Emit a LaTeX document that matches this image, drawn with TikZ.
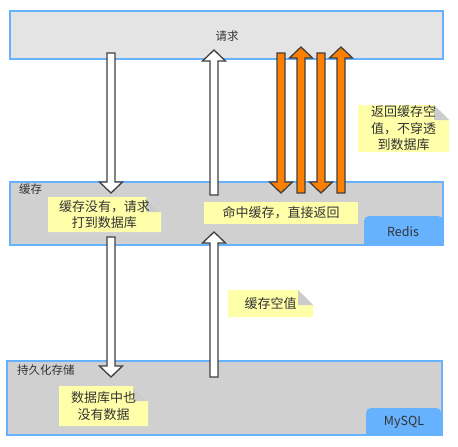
\documentclass[tikz,border=0pt]{standalone}
\usepackage{fontspec}
\setmainfont{Noto Sans CJK SC}
\definecolor{boxblue}{HTML}{66B2FF}
\definecolor{topfill}{HTML}{E4E4E4}
\definecolor{midfill}{HTML}{D0D0D0}
\definecolor{notey}{HTML}{FFFFAA}
\definecolor{foldg}{HTML}{CCCCCC}
\definecolor{edge}{HTML}{404040}
\definecolor{txt}{HTML}{333333}
\definecolor{orng}{HTML}{FF8000}
\newcommand\bdown[4]{% x, ytop, ytip, fill
  \draw[blockarrow,fill=#4] (#1-4,#2) -- (#1+4,#2) -- (#1+4,#3-11) -- (#1+11.5,#3-11) -- (#1,#3) -- (#1-11.5,#3-11) -- (#1-4,#3-11) -- cycle;}
\newcommand\bup[4]{% x, ybottom, ytip, fill
  \draw[blockarrow,fill=#4] (#1-4,#2) -- (#1+4,#2) -- (#1+4,#3+11) -- (#1+11.5,#3+11) -- (#1,#3) -- (#1-11.5,#3+11) -- (#1-4,#3+11) -- cycle;}
\newcommand\mynote[6]{% name, x1, y1, x2, y2, text
  \fill[notey] (#2,#3) -- (#4-15,#3) -- (#4,#3+15) -- (#4,#5) -- (#2,#5) -- cycle;
  \fill[foldg] (#4-15,#3) -- (#4,#3+15) -- (#4-15,#3+15) -- cycle;
  \node[notetext] (#1) at ({(#2+#4)/2},{(#3+#5)/2}) {#6};}
\tikzset{
  layer/.style={draw=boxblue,line width=1.5pt},
  blockarrow/.style={draw=edge,line width=1.3pt,line join=miter},
  lbl/.style={text=txt,font=\fontsize{11.5}{14}\selectfont,inner sep=0pt},
  notetext/.style={text=txt,font=\fontsize{13}{16.5}\selectfont,align=center,inner sep=0pt},
  tab/.style={fill=boxblue},
}
\begin{document}
\begin{tikzpicture}[x=1pt,y=-1pt]
\useasboundingbox (0,0) rectangle (458,447);
% layers
\draw[layer,fill=topfill] (10,11) rectangle (443,59);
\node[lbl] (req) at (227,36) {请求};
\draw[layer,fill=midfill] (10,182) rectangle (443,245);
\node[lbl,anchor=west] (cache) at (19,189) {缓存};
\draw[layer,fill=midfill] (7,361) rectangle (442,435);
\node[lbl,anchor=west] (persist) at (17,370) {持久化存储};
% tabs
\fill[tab] (443,244.2) -- (364,244.2) [rounded corners=5pt] -- (364,216) -- (443,216) [sharp corners] -- (443,244.2) -- cycle;
\node[lbl,font=\fontsize{12.5}{14}\selectfont] (redis) at (403,232) {Redis};
\fill[tab] (441.2,434.2) -- (366,434.2) [rounded corners=5pt] -- (366,408) -- (441.2,408) [sharp corners] -- (441.2,434.2) -- cycle;
\node[lbl,font=\fontsize{12.5}{14}\selectfont] (mysql) at (404,422) {MySQL};
% white arrows
\bdown{111}{53}{193}{white}
\bup{214}{195}{50}{white}
\bdown{111}{237}{377}{white}
\bup{214}{377}{232}{white}
% orange arrows
\bdown{281}{53}{193}{orng}
\bup{301}{193}{47}{orng}
\bdown{321}{53}{193}{orng}
\bup{341}{193}{47}{orng}
% notes
\mynote{n1}{48}{197}{161}{232}{缓存没有，请求\\打到数据库}
\fill[notey] (204,202) rectangle (358,224);
\node[notetext] (n2) at (281,213) {命中缓存，直接返回};
\mynote{n3}{59}{386}{148}{426}{数据库中也\\没有数据}
\mynote{n4}{358}{105}{449}{152}{返回缓存空\\值，不穿透\\到数据库}
\mynote{n5}{228}{290}{313}{317}{缓存空值}
\end{tikzpicture}
\end{document}
